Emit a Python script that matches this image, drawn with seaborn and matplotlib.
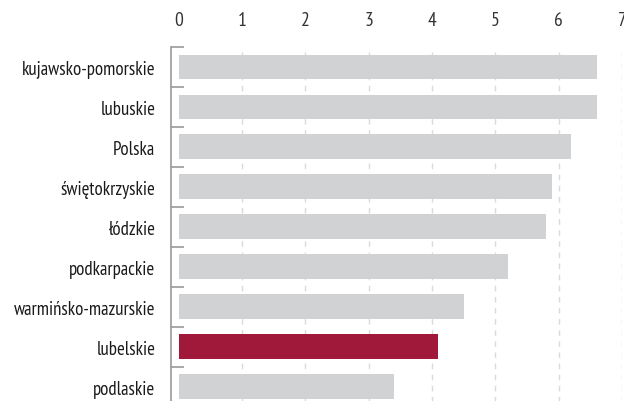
import matplotlib
matplotlib.use("Agg")
import matplotlib.pyplot as plt
import seaborn as sns
import pandas as pd
import numpy as np

regions = ["kujawsko-pomorskie", "lubuskie", "Polska", "świętokrzyskie", "łódzkie",
           "podkarpackie", "warmińsko-mazurskie", "lubelskie", "podlaskie"]
values = [6.6, 6.6, 6.2, 5.9, 5.8, 5.2, 4.5, 4.1, 3.4]
highlight = "lubelskie"
x_ticks = [0, 1, 2, 3, 4, 5, 6, 7]

sns.set_theme(style="white")
plt.rcParams["font.family"] = ["PT Sans Narrow", "DejaVu Sans"]

df = pd.DataFrame({"region": regions, "value": values})
df["grp"] = ["hl" if r == highlight else "base" for r in regions]
palette = {"base": "#D1D2D4", "hl": "#A0183A"}

fig = plt.figure(figsize=(6.24, 4.02), dpi=100)
top = 1 - 48 / 402
bottom = 1 - 407.5 / 402
left = 170.7 / 624
right = 622 / 624
ax = fig.add_axes([left, bottom, right - left, top - bottom])

sns.barplot(data=df, y="region", x="value", hue="grp", palette=palette,
            order=regions, dodge=False, width=0.62, legend=False, ax=ax,
            saturation=1, linewidth=0)

ax.set_xlim(-0.126, 7)
ax.set_ylim(len(regions) - 0.5, -0.5)
ax.set_xlabel("")
ax.set_ylabel("")

for v in x_ticks[1:]:
    ax.axvline(v, color="#DADADA", lw=1, ls=(0, (4, 4)), zorder=0)

ax.xaxis.tick_top()
ax.set_xticks(x_ticks)
ax.set_xticklabels([str(t) for t in x_ticks])
ax.tick_params(axis="x", length=0, pad=13, labelsize=14, labelcolor="#333333")

ax.set_yticks(range(len(regions)))
ax.set_yticklabels(regions)
ax.set_yticks(np.arange(-0.5, len(regions), 1.0), minor=True)
ax.tick_params(axis="y", which="major", length=0, pad=11, labelsize=13.5, labelcolor="#1a1a1a")
ax.tick_params(axis="y", which="minor", length=9, width=1.2, direction="in", color="#999999", left=True)

for s in ["top", "right", "bottom"]:
    ax.spines[s].set_visible(False)
ax.spines["left"].set_color("#999999")
ax.spines["left"].set_linewidth(1.2)

fig.savefig("out.png", dpi=100)
